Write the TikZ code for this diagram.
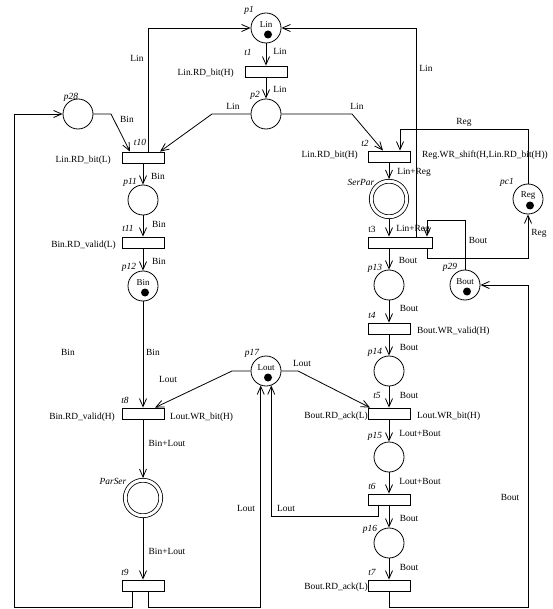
\documentclass[tikz,border=0pt]{standalone}
\usepackage{fontspec}
\setmainfont{Liberation Serif}
\usetikzlibrary{arrows.meta}
\begin{document}
\begin{tikzpicture}[x=1pt,y=-1pt,
  every node/.style={font=\fontsize{9.4}{11}\selectfont, inner sep=0pt},
  place/.style={draw, circle, minimum size=30pt, line width=0.8pt},
  dplace/.style={draw, circle, minimum size=35.5pt, line width=0.8pt, double, double distance=3pt, outer sep=2.3pt},
  trans/.style={draw, rectangle, minimum width=42pt, minimum height=11pt, line width=0.8pt},
  arr/.style={line width=0.8pt, -{Straight Barb[length=8pt,width=7pt]}},
  pname/.style={font=\itshape\fontsize{9.4}{11}\selectfont},
  intxt/.style={font=\fontsize{9}{10}\selectfont},
  tok/.style={fill=black}
]
\useasboundingbox (0,0) rectangle (552,609);

% places
\node[place] (p1) at (266,28) {};
\node[place] (p2) at (266,114) {};
\node[place] (p28) at (78,114) {};
\node[place] (p11) at (143,200) {};
\node[place] (p12) at (143,286) {};
\node[place] (p17) at (266,371) {};
\node[dplace] (ParSer) at (143,498) {};
\node[dplace] (SerPar) at (389,199) {};
\node[place] (p13) at (389,285) {};
\node[place] (p14) at (389,371) {};
\node[place] (p15) at (389,457) {};
\node[place] (p16) at (389,543) {};
\node[place] (p29) at (465,285) {};
\node[place] (pc1) at (528,199) {};

% transitions
\node[trans] (t1) at (266,71.5) {};
\node[trans] (t10) at (143,157.5) {};
\node[trans] (t11) at (143,242.5) {};
\node[trans] (t8) at (143,413.5) {};
\node[trans] (t9) at (143,585.5) {};
\node[trans] (t2) at (389,156.5) {};
\node[trans, minimum width=64pt] (t3) at (400,242.5) {};
\node[trans] (t4) at (389,328.5) {};
\node[trans] (t5) at (389,413.5) {};
\node[trans] (t6) at (389,499.5) {};
\node[trans] (t7) at (389,585.5) {};

% tokens and place contents
\node[intxt] (p1in) at (266,24.5) {Lin};
\fill[tok] (p1) ++(2,6.5) circle[radius=4pt];
\node[intxt] (p12in) at (143,282.5) {Bin};
\fill[tok] (p12) ++(2,6.5) circle[radius=4pt];
\node[intxt] (p17in) at (266,367.5) {Lout};
\fill[tok] (p17) ++(2,6.5) circle[radius=4pt];
\node[intxt] (pc1in) at (528,195.5) {Reg};
\fill[tok] (pc1) ++(2,6.5) circle[radius=4pt];
\node[intxt] (p29in) at (465,281.5) {Bout};
\fill[tok] (p29) ++(2,6.5) circle[radius=4pt];

% corners
\coordinate (c1) at (212,114);
\coordinate (c2) at (111,114);
\coordinate (c3) at (352,114);
\coordinate (c4) at (232,371);
\coordinate (c5) at (298,371);
\coordinate (cl) at (14,607);
\coordinate (cr) at (528,607);

% straight arcs
\draw[arr] (p1) -- (t1);
\draw[arr] (t1) -- (p2);
\draw[arr] (t10) -- (p11);
\draw[arr] (p11) -- (t11);
\draw[arr] (t11) -- (p12);
\draw[arr] (p12) -- (t8);
\draw[arr] (t8) -- (ParSer);
\draw[arr] (ParSer) -- (t9);
\draw[arr] (t2) -- (SerPar);
\draw[arr] (SerPar) -- (SerPar |- t3.north);
\draw[arr] (t3.south -| p13) -- (p13);
\draw[arr] (p13) -- (t4);
\draw[arr] (t4) -- (p14);
\draw[arr] (p14) -- (t5);
\draw[arr] (t5) -- (p15);
\draw[arr] (p15) -- (t6);
\draw[arr] (t6) -- (p16);
\draw[arr] (p16) -- (t7);

% bent arcs
\draw[arr] ([xshift=5pt]t10.north) |- (p1.west);
\draw[arr] ([xshift=16pt]t3.north) |- (p1.east);
\draw[arr] (p2.west) -- (c1) -- ([xshift=17pt]t10.north);
\draw[arr] (p28.east) -- (c2) -- ([xshift=-13pt]t10.north);
\draw[arr] (p2.east) -- (c3) -- ([xshift=-6pt]t2.north);
\draw[arr] (pc1.north) -- ++(0,-54) -| ([xshift=11pt]t2.north);
\draw[arr] ([xshift=27pt]t3.south) -- ++(0,10) -| (pc1.south);
\draw[arr] (p29.north) -- ++(0,-49) -| ([xshift=27pt]t3.north);
\draw[arr] (t7.south) |- (cr) |- (p29.east);
\draw[arr] ([xshift=-11pt]t6.south) -- ++(0,11) -| (p17.-70);
\draw[arr] ([xshift=5pt]t9.south) -- ++(0,16) -| (p17.-110);
\draw[arr] ([xshift=-11pt]t9.south) |- (cl) |- (p28.west);
\draw[arr] (p17.west) -- (c4) -- ([xshift=12pt]t8.north);
\draw[arr] (p17.east) -- (c5) -- ([xshift=-19pt]t5.north);

% names
\node[pname] (np1) at (249,10) {p1};
\node[pname] (nt1) at (248,52) {t1};
\node[pname] (np2) at (255,95) {p2};
\node[pname] (np28) at (71,97) {p28};
\node[pname] (nt10) at (140,142) {t10};
\node[pname] (np11) at (130,182) {p11};
\node[pname] (nt11) at (128,228) {t11};
\node[pname] (np12) at (129,267) {p12};
\node[pname] (nt8) at (125,400) {t8};
\node[pname] (nParSer) at (113,481) {ParSer};
\node[pname] (nt9) at (125,572) {t9};
\node[pname] (np17) at (252,353) {p17};
\node[pname] (nt2) at (365,143) {t2};
\node[pname] (nSerPar) at (361,182) {SerPar};
\node (nt3) at (372,229) {t3};
\node[pname] (npc1) at (507,182) {pc1};
\node[pname] (np13) at (375,268) {p13};
\node[pname] (np29) at (450,267) {p29};
\node[pname] (nt4) at (372,315) {t4};
\node[pname] (np14) at (375,352) {p14};
\node[pname] (nt5) at (377,395) {t5};
\node[pname] (np15) at (375,436) {p15};
\node[pname] (nt6) at (372,486) {t6};
\node[pname] (np16) at (370,529) {p16};
\node[pname] (nt7) at (372,572) {t7};

% transition inscriptions
\node[anchor=east] (g1) at (234,73) {Lin.RD\_bit(H)};
\node[anchor=east] (g10) at (111,160) {Lin.RD\_bit(L)};
\node[anchor=east] (g11) at (116,245) {Bin.RD\_valid(L)};
\node[anchor=east] (g8a) at (115,417) {Bin.RD\_valid(H)};
\node[anchor=west] (g8b) at (170,417) {Lout.WR\_bit(H)};
\node[anchor=east] (g2a) at (358,155) {Lin.RD\_bit(H)};
\node[anchor=west] (g2b) at (422,155) {Reg.WR\_shift(H,Lin.RD\_bit(H))};
\node[anchor=west] (g4) at (417,331) {Bout.WR\_valid(H)};
\node[anchor=east] (g5a) at (368,416) {Bout.RD\_ack(L)};
\node[anchor=west] (g5b) at (417,416) {Lout.WR\_bit(H)};
\node[anchor=east] (g7) at (368,587) {Bout.RD\_ack(L)};

% arc inscriptions
\node (a1) at (280,51) {Lin};
\node (a2) at (280,89) {Lin};
\node (a3) at (137,58) {Lin};
\node (a4) at (426,68) {Lin};
\node (a5) at (233,106) {Lin};
\node (a6) at (127,119) {Bin};
\node (a7) at (357,106) {Lin};
\node (a8) at (464,122) {Reg};
\node (a9) at (414,172) {Lin+Reg};
\node (a10) at (413,229) {Lin+Reg};
\node (a11) at (408,260) {Bout};
\node (a12) at (539,233) {Reg};
\node (a13) at (478,240) {Bout};
\node (a14) at (409,308) {Bout};
\node (a15) at (409,347) {Bout};
\node (a16) at (409,395) {Bout};
\node (a17) at (420,433) {Lout+Bout};
\node (a18) at (420,481) {Lout+Bout};
\node (a19) at (409,518) {Bout};
\node (a20) at (409,567) {Bout};
\node (a21) at (510,497) {Bout};
\node (a22) at (286,508) {Lout};
\node (a23) at (246,508) {Lout};
\node (a24) at (68,352) {Bin};
\node (a25) at (168,379) {Lout};
\node (a26) at (302,363) {Lout};
\node (a27) at (158,176) {Bin};
\node (a28) at (159,224) {Bin};
\node (a29) at (159,261) {Bin};
\node (a30) at (153,352) {Bin};
\node (a31) at (167,443) {Bin+Lout};
\node (a32) at (167,551) {Bin+Lout};
\end{tikzpicture}
\end{document}
